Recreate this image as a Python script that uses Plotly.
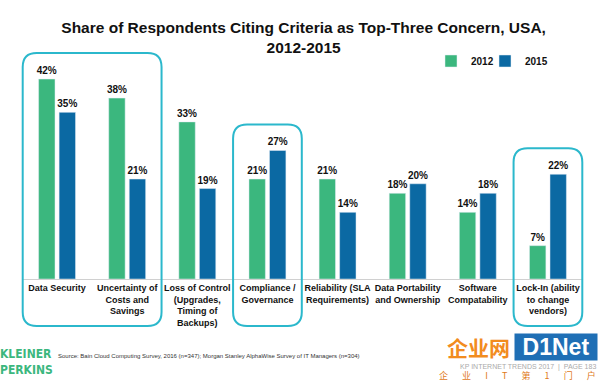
import plotly.graph_objects as go

categories = ["Data Security", "Uncertainty of<br>Costs and<br>Savings",
              "Loss of Control<br>(Upgrades,<br>Timing of<br>Backups)",
              "Compliance /<br>Governance", "Reliability (SLA<br>Requirements)",
              "Data Portability<br>and Ownership", "Software<br>Compatability",
              "Lock-In (ability<br>to change<br>vendors)"]
v2012 = [42, 38, 33, 21, 21, 18, 14, 7]
v2015 = [35, 21, 19, 27, 14, 20, 18, 22]
series_names = ["2012", "2015"]
highlight_groups = [(0, 1), (3, 3), (7, 7)]

GREEN = "#3BB77E"
BLUE = "#0B69A3"
TEAL = "#2BB8CC"
FONT = "Liberation Sans, Arial, sans-serif"

W, H = 600, 382
ML, MR, MT, MB = 22, 17, 60, 103
YMAX = 46

pw = W - ML - MR
ph = H - MT - MB
n = len(categories)
def X(px):
    return (px - ML) / pw
def Y(py):
    return (H - MB - py) / ph

fig = go.Figure()
for name, vals, col, lg in [(series_names[0], v2012, GREEN, "legend"),
                            (series_names[1], v2015, BLUE, "legend2")]:
    fig.add_trace(go.Bar(
        x=categories, y=vals, name=name, marker_color=col, legend=lg,
        text=[f"{v}%" for v in vals], textposition="outside",
        textfont=dict(family=FONT, size=10, color="#111", weight="bold"),
        constraintext="none", cliponaxis=False,
    ))

for a, b in highlight_groups:
    x0 = ML + (a + 0.01) * pw / n
    x1 = ML + (b + 0.99) * pw / n
    top_val = max(max(v2012[i], v2015[i]) for i in range(a, b + 1))
    y_top = (H - MB) - top_val / YMAX * ph - 26
    y_bot = 326
    r = 14
    path = (f"M {X(x0+r)},{Y(y_top)} L {X(x1-r)},{Y(y_top)} "
            f"Q {X(x1)},{Y(y_top)} {X(x1)},{Y(y_top+r)} "
            f"L {X(x1)},{Y(y_bot-r)} Q {X(x1)},{Y(y_bot)} {X(x1-r)},{Y(y_bot)} "
            f"L {X(x0+r)},{Y(y_bot)} Q {X(x0)},{Y(y_bot)} {X(x0)},{Y(y_bot-r)} "
            f"L {X(x0)},{Y(y_top+r)} Q {X(x0)},{Y(y_top)} {X(x0+r)},{Y(y_top)} Z")
    fig.add_shape(type="path", path=path, xref="paper", yref="paper",
                  line=dict(color=TEAL, width=2), fillcolor="rgba(0,0,0,0)")

legfont = dict(family=FONT, size=10, color="#111", weight="bold")
fig.update_layout(
    width=W, height=H,
    margin=dict(l=ML, r=MR, t=MT, b=MB, autoexpand=False),
    paper_bgcolor="white", plot_bgcolor="white",
    barmode="group", bargap=0.415, bargroupgap=0.2,
    title=dict(text="<b>Share of Respondents Citing Criteria as Top-Three Concern, USA,<br>2012-2015</b>",
               x=0.506, xanchor="center", y=1 - 33 / H, yanchor="middle",
               font=dict(family=FONT, size=15.5, color="#111")),
    font=dict(family=FONT, color="#111"),
    legend=dict(orientation="h", x=X(431), xanchor="left", y=Y(61), yanchor="middle",
                font=legfont, bgcolor="rgba(0,0,0,0)", itemwidth=30),
    legend2=dict(orientation="h", x=X(485), xanchor="left", y=Y(61), yanchor="middle",
                 font=legfont, bgcolor="rgba(0,0,0,0)", itemwidth=30),
    xaxis=dict(showline=True, linecolor="#d0d0d0", linewidth=1, ticks="", tickangle=0,
               tickfont=dict(family=FONT, size=9, color="#111", weight="bold"), showgrid=False),
    yaxis=dict(range=[0, YMAX], visible=False, showgrid=False),
    showlegend=True,
)

fig.add_annotation(text="<b>KLEINER<br>PERKINS</b>", xref="paper", yref="paper",
                   x=X(-2), y=Y(362), xanchor="left", yanchor="middle",
                   showarrow=False, align="left",
                   font=dict(family="DejaVu Sans Condensed, Liberation Sans Narrow, sans-serif", size=12, color=GREEN))
fig.add_annotation(text="Source: Bain Cloud Computing Survey, 2016 (n=347); Morgan Stanley AlphaWise Survey of IT Managers (n=304)",
                   xref="paper", yref="paper", x=X(56), y=Y(356),
                   xanchor="left", yanchor="middle", showarrow=False,
                   font=dict(family=FONT, size=6, color="#333"))
fig.add_annotation(text="企业网", xref="paper", yref="paper",
                   x=X(512), y=Y(347), xanchor="right", yanchor="middle",
                   showarrow=False, font=dict(family="Noto Sans CJK SC", size=21, color="#F28C1E", weight="bold"))
fig.add_annotation(text="<b>D1Net</b>", xref="paper", yref="paper",
                   x=X(598), y=Y(347), xanchor="right", yanchor="middle",
                   showarrow=False, bgcolor="#1F6FB5", borderpad=0, width=82, align="center",
                   font=dict(family=FONT, size=23, color="white"))
fig.add_annotation(text="KP INTERNET TRENDS 2017  |  PAGE 183", xref="paper", yref="paper",
                   x=X(598), y=Y(367), xanchor="right", yanchor="middle",
                   showarrow=False, font=dict(family=FONT, size=7, color="#aaa"))
fig.add_annotation(text="企       业       I       T       第       1       门       户", xref="paper", yref="paper",
                   x=X(598), y=Y(375), xanchor="right", yanchor="middle",
                   showarrow=False, font=dict(family="Noto Sans CJK SC", size=9, color="#E07A1A"))

fig.write_html("out.html", config={"displayModeBar": False},
               post_script="document.body.style.margin='0';document.body.style.overflow='hidden';")
